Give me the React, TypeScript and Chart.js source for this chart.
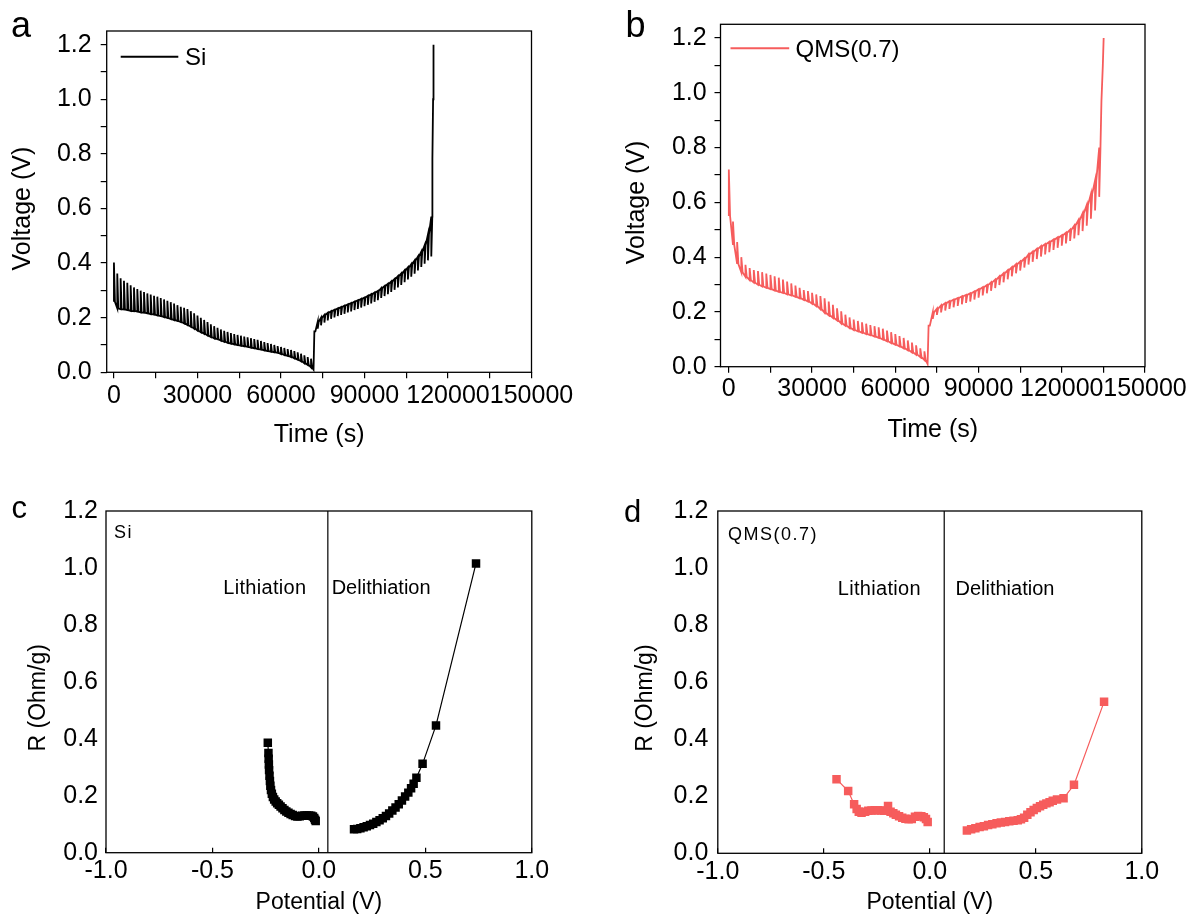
import React, { useEffect, useRef } from 'react';
import { Chart, registerables } from 'chart.js';

Chart.register(...registerables);

const FONT = '"Liberation Sans", Arial, Helvetica, sans-serif';
const BLACK = '#000000';
const RED = '#f65c5c';

// ---------------- tick labels ----------------
const TIME_MAJOR = [0, 30000, 60000, 90000, 120000, 150000];
const TIME_MINOR = [15000, 45000, 75000, 105000, 135000];
const VOLT_MAJOR = [0, 0.2, 0.4, 0.6, 0.8, 1.0, 1.2];
const VOLT_MINOR = [0.1, 0.3, 0.5, 0.7, 0.9, 1.1];
const POT_MAJOR = [-1.0, -0.5, 0.0, 0.5, 1.0];
const RES_MAJOR = [0, 0.2, 0.4, 0.6, 0.8, 1.0, 1.2];

// ---------------- panel a : Si GITT ----------------
const SI_LITH_START = 0;
const SI_LITH_PERIOD = 1200;
const SI_LITH_LOW = [
  0.258, 0.234, 0.231, 0.230, 0.228, 0.225, 0.224, 0.222, 0.219, 0.218,
  0.216, 0.213, 0.211, 0.208, 0.206, 0.202, 0.199, 0.195, 0.191, 0.188,
  0.184, 0.179, 0.173, 0.167, 0.160, 0.153, 0.147, 0.141, 0.135, 0.129,
  0.124, 0.121, 0.116, 0.112, 0.108, 0.105, 0.102, 0.100, 0.097, 0.095,
  0.093, 0.090, 0.088, 0.085, 0.083, 0.080, 0.078, 0.075, 0.073, 0.071,
  0.067, 0.063, 0.060, 0.056, 0.051, 0.046, 0.040, 0.033, 0.027, 0.018,
];
const SI_LITH_OCV = [
  0.402, 0.362, 0.344, 0.335, 0.328, 0.319, 0.311, 0.305, 0.299, 0.294,
  0.289, 0.285, 0.280, 0.277, 0.272, 0.267, 0.262, 0.257, 0.252, 0.246,
  0.240, 0.236, 0.232, 0.224, 0.216, 0.208, 0.200, 0.192, 0.184, 0.176,
  0.169, 0.163, 0.157, 0.152, 0.148, 0.144, 0.140, 0.137, 0.134, 0.131,
  0.128, 0.125, 0.122, 0.119, 0.115, 0.111, 0.107, 0.104, 0.100, 0.096,
  0.093, 0.089, 0.085, 0.082, 0.078, 0.073, 0.068, 0.062, 0.056, 0.050,
];
const SI_LITH_END_T = 71700;
const SI_LITH_END_V = 0.010;
const SI_DEL_START = 72000;
const SI_DEL_PERIOD = 1200;
const SI_DEL_UPPER = [
  0.150, 0.185, 0.200, 0.210, 0.218, 0.224, 0.229, 0.234, 0.239, 0.244,
  0.249, 0.254, 0.259, 0.264, 0.269, 0.274, 0.280, 0.286, 0.292, 0.298,
  0.308, 0.316, 0.324, 0.333, 0.342, 0.352, 0.362, 0.373, 0.384, 0.396,
  0.409, 0.424, 0.442, 0.465, 0.505, 0.570,
];
const SI_DEL_RELAX = [
  0.150, 0.160, 0.172, 0.182, 0.190, 0.196, 0.201, 0.206, 0.210, 0.214,
  0.219, 0.223, 0.228, 0.232, 0.237, 0.242, 0.247, 0.252, 0.258, 0.264,
  0.272, 0.279, 0.286, 0.294, 0.302, 0.311, 0.320, 0.330, 0.340, 0.350,
  0.361, 0.373, 0.386, 0.398, 0.410, 0.424,
];
const SI_TAIL_T = [114300, 114500, 114650, 114800];
const SI_TAIL_V = [0.64, 0.78, 1.0, 1.2];

// ---------------- panel b : QMS(0.7) GITT ----------------
const QMS_LITH_START = 0;
const QMS_LITH_PERIOD = 1500;
const QMS_LITH_LOW = [
  0.550, 0.445, 0.375, 0.345, 0.328, 0.316, 0.307, 0.299, 0.293, 0.288,
  0.283, 0.278, 0.273, 0.269, 0.264, 0.260, 0.255, 0.250, 0.244, 0.238,
  0.230, 0.221, 0.210, 0.197, 0.188, 0.178, 0.169, 0.158, 0.150, 0.141,
  0.134, 0.129, 0.124, 0.119, 0.115, 0.110, 0.105, 0.099, 0.093, 0.086,
  0.080, 0.074, 0.067, 0.060, 0.052, 0.044, 0.035, 0.024,
];
const QMS_LITH_OCV = [
  0.720, 0.530, 0.455, 0.400, 0.372, 0.360, 0.353, 0.349, 0.345, 0.340,
  0.335, 0.330, 0.325, 0.318, 0.311, 0.304, 0.296, 0.288, 0.280, 0.276,
  0.270, 0.264, 0.258, 0.250, 0.238, 0.226, 0.213, 0.202, 0.190, 0.180,
  0.172, 0.167, 0.162, 0.157, 0.152, 0.148, 0.144, 0.139, 0.132, 0.126,
  0.119, 0.112, 0.105, 0.096, 0.088, 0.078, 0.067, 0.056,
];
const QMS_LITH_END_T = 71640;
const QMS_LITH_END_V = 0.010;
const QMS_DEL_START = 72000;
const QMS_DEL_PERIOD = 1500;
const QMS_DEL_UPPER = [
  0.150, 0.198, 0.212, 0.224, 0.232, 0.239, 0.245, 0.251, 0.257, 0.262,
  0.268, 0.275, 0.283, 0.290, 0.298, 0.308, 0.318, 0.330, 0.341, 0.352,
  0.363, 0.374, 0.384, 0.395, 0.410, 0.420, 0.430, 0.440, 0.448, 0.456,
  0.464, 0.472, 0.480, 0.489, 0.500, 0.515, 0.535, 0.560, 0.590, 0.630,
  0.680, 0.800,
];
const QMS_DEL_RELAX = [
  0.150, 0.175, 0.189, 0.198, 0.205, 0.211, 0.217, 0.222, 0.228, 0.233,
  0.238, 0.245, 0.252, 0.260, 0.268, 0.277, 0.287, 0.298, 0.308, 0.319,
  0.330, 0.341, 0.351, 0.362, 0.373, 0.383, 0.393, 0.402, 0.410, 0.418,
  0.426, 0.434, 0.442, 0.450, 0.459, 0.468, 0.480, 0.495, 0.515, 0.540,
  0.570, 0.620,
];
const QMS_TAIL_T = [134300, 134800, 135100];
const QMS_TAIL_V = [0.97, 1.10, 1.20];

// ---------------- panel c : Si resistance ----------------
const SI_R_LITH_V = [
  -0.240, -0.237, -0.236, -0.235, -0.234, -0.232, -0.230, -0.228, -0.225, -0.221,
  -0.216, -0.210, -0.203, -0.196, -0.188, -0.180, -0.171, -0.162, -0.153, -0.143,
  -0.133, -0.123, -0.112, -0.101, -0.090, -0.079, -0.068, -0.057, -0.046, -0.036,
  -0.028, -0.022, -0.018, -0.015,
];
const SI_R_LITH_R = [
  0.386, 0.350, 0.330, 0.310, 0.290, 0.270, 0.252, 0.235, 0.220, 0.207,
  0.196, 0.187, 0.180, 0.174, 0.168, 0.162, 0.156, 0.150, 0.145, 0.140,
  0.136, 0.132, 0.129, 0.127, 0.128, 0.130, 0.131, 0.131, 0.131, 0.130,
  0.127, 0.122, 0.116, 0.111,
];
const SI_R_DELITH_V = [
  0.165, 0.180, 0.195, 0.210, 0.225, 0.240, 0.255, 0.270, 0.285, 0.300,
  0.315, 0.330, 0.345, 0.360, 0.375, 0.390, 0.405, 0.420, 0.433, 0.445,
  0.458, 0.487, 0.550, 0.738,
];
const SI_R_DELITH_R = [
  0.082, 0.083, 0.086, 0.089, 0.093, 0.097, 0.102, 0.108, 0.114, 0.121,
  0.129, 0.138, 0.148, 0.159, 0.170, 0.183, 0.197, 0.211, 0.226, 0.242,
  0.263, 0.312, 0.447, 1.016,
];
const SI_DIVIDER_V = 0.042;

// ---------------- panel d : QMS(0.7) resistance ----------------
const QMS_R_LITH_V = [
  -0.440, -0.385, -0.357, -0.345, -0.335, -0.322, -0.305, -0.290, -0.275, -0.260,
  -0.245, -0.230, -0.215, -0.197, -0.185, -0.172, -0.160, -0.145, -0.130, -0.115,
  -0.100, -0.085, -0.070, -0.055, -0.040, -0.028, -0.018, -0.010,
];
const QMS_R_LITH_R = [
  0.260, 0.218, 0.172, 0.155, 0.146, 0.142, 0.146, 0.149, 0.150, 0.151,
  0.151, 0.150, 0.149, 0.166, 0.146, 0.140, 0.135, 0.130, 0.125, 0.121,
  0.119, 0.120, 0.128, 0.131, 0.130, 0.126, 0.120, 0.110,
];
const QMS_R_DELITH_V = [
  0.175, 0.195, 0.215, 0.235, 0.255, 0.275, 0.295, 0.315, 0.335, 0.355,
  0.375, 0.395, 0.415, 0.430, 0.445, 0.460, 0.475, 0.490, 0.505, 0.520,
  0.535, 0.550, 0.565, 0.580, 0.600, 0.631, 0.680, 0.822,
];
const QMS_R_DELITH_R = [
  0.080, 0.084, 0.088, 0.092, 0.095, 0.099, 0.102, 0.105, 0.108, 0.110,
  0.112, 0.114, 0.116, 0.119, 0.125, 0.135, 0.144, 0.152, 0.159, 0.165,
  0.170, 0.175, 0.179, 0.184, 0.189, 0.193, 0.240, 0.531,
];
const QMS_DIVIDER_V = 0.068;

// ---------------- helpers ----------------
type Pt = { x: number; y: number };

// relaxation spikes: rise at pulse start, fall back after a short rest fraction
const SPIKE_FRACTION = 0.3;

function buildGitt(
  lithStart: number, lithPeriod: number, lithLow: number[], lithOcv: number[],
  lithEndT: number, lithEndV: number,
  delStart: number, delPeriod: number, delUpper: number[], delRelax: number[],
  tailT: number[], tailV: number[],
): Pt[] {
  const pts: Pt[] = [];
  lithLow.forEach((low, i) => {
    const t = lithStart + i * lithPeriod;
    pts.push({ x: t, y: low }, { x: t, y: lithOcv[i] }, { x: t + lithPeriod * SPIKE_FRACTION, y: low });
  });
  pts.push({ x: lithEndT, y: lithEndV });
  delUpper.forEach((up, j) => {
    const t = delStart + j * delPeriod;
    pts.push({ x: t, y: up }, { x: t, y: delRelax[j] }, { x: t + delPeriod * SPIKE_FRACTION, y: up });
  });
  tailT.forEach((t, k) => pts.push({ x: t, y: tailV[k] }));
  return pts;
}

function zip(xs: number[], ys: number[]): Pt[] {
  return xs.map((x, i) => ({ x, y: ys[i] }));
}

const isIn = (list: number[], v: number) => list.some((m) => Math.abs(m - v) < 1e-6);

function drawFrame(chart: any, ctx: CanvasRenderingContext2D) {
  const a = chart.chartArea;
  ctx.strokeStyle = BLACK;
  ctx.lineWidth = 1.3;
  ctx.strokeRect(a.left, a.top, a.right - a.left, a.bottom - a.top);
}

function drawText(ctx: CanvasRenderingContext2D, text: string, x: number, y: number, size: number, spacing = 0) {
  ctx.save();
  ctx.font = `${size}px ${FONT}`;
  ctx.fillStyle = BLACK;
  ctx.textAlign = 'left';
  ctx.textBaseline = 'alphabetic';
  (ctx as any).letterSpacing = `${spacing}px`;
  ctx.fillText(text, x, y);
  ctx.restore();
}

function decor(draw: (chart: any, ctx: CanvasRenderingContext2D) => void) {
  return {
    id: 'decor',
    afterDraw(chart: any) {
      const ctx = chart.ctx;
      ctx.save();
      draw(chart, ctx);
      ctx.restore();
    },
  };
}

// ---------------- GITT panel config ----------------
function gittConfig(o: any) {
  return {
    type: 'line',
    data: {
      datasets: [
        {
          data: o.points,
          borderColor: o.color,
          borderWidth: 1.8,
          pointRadius: 0,
          tension: 0,
          fill: false,
        },
      ],
    },
    options: {
      responsive: false,
      animation: false,
      events: [],
      layout: { padding: { left: 0, top: o.padTop, right: o.padRight, bottom: 0 } },
      plugins: { legend: { display: false }, tooltip: { enabled: false } },
      scales: {
        x: {
          type: 'linear',
          min: o.xMin,
          max: 150000,
          afterBuildTicks: (s: any) => {
            s.ticks = [...TIME_MAJOR, ...TIME_MINOR].sort((p, q) => p - q).map((v) => ({ value: v }));
          },
          afterFit: (s: any) => { s.height = o.xAxisHeight; },
          ticks: {
            autoSkip: false, maxRotation: 0, minRotation: 0, padding: o.xTickPad, color: BLACK,
            font: { family: FONT, size: 25 },
            callback: (v: number) => (isIn(TIME_MAJOR, v) ? String(v) : ''),
          },
          grid: { display: true, drawOnChartArea: false, drawTicks: true, tickLength: 6, color: BLACK, lineWidth: 1.2 },
          border: { display: false },
          title: {
            display: true, text: 'Time (s)', color: BLACK, font: { family: FONT, size: 25 },
            padding: { top: 0, bottom: o.xTitlePad },
          },
        },
        y: {
          type: 'linear',
          min: 0,
          max: 1.25,
          afterBuildTicks: (s: any) => {
            s.ticks = [...VOLT_MAJOR, ...VOLT_MINOR].sort((p, q) => p - q).map((v) => ({ value: v }));
          },
          afterFit: (s: any) => { s.width = o.yAxisWidth; },
          ticks: {
            autoSkip: false, padding: o.yTickPad, color: BLACK, font: { family: FONT, size: 25 },
            callback: (v: number) => (isIn(VOLT_MAJOR, v) ? v.toFixed(1) : ''),
          },
          grid: { display: true, drawOnChartArea: false, drawTicks: true, tickLength: 6, color: BLACK, lineWidth: 1.2 },
          border: { display: false },
          title: {
            display: true, text: 'Voltage (V)  ', color: BLACK, font: { family: FONT, size: 25 },
            padding: { top: o.yTitlePad, bottom: 0 },
          },
        },
      },
    },
    plugins: [
      decor((chart, ctx) => {
        drawFrame(chart, ctx);
        drawText(ctx, o.letter, o.letterX, o.letterY, 36);
        ctx.strokeStyle = o.color;
        ctx.lineWidth = 2;
        ctx.beginPath();
        ctx.moveTo(o.legX1, o.legY);
        ctx.lineTo(o.legX2, o.legY);
        ctx.stroke();
        drawText(ctx, o.legText, o.legTextX, o.legTextY, 24);
      }),
    ],
  };
}

// ---------------- resistance panel config ----------------
function resConfig(o: any) {
  const pointSet = (pts: Pt[]) => ({
    data: pts,
    borderColor: o.color,
    backgroundColor: o.color,
    borderWidth: 1.2,
    pointStyle: 'rect',
    pointRadius: 6,
    pointBorderWidth: 0,
    pointBackgroundColor: o.color,
    tension: 0,
    fill: false,
  });
  return {
    type: 'line',
    data: {
      datasets: [
        {
          data: [{ x: o.divider, y: 0 }, { x: o.divider, y: 1.2 }],
          borderColor: BLACK,
          borderWidth: 1.2,
          pointRadius: 0,
          fill: false,
        },
        pointSet(o.lith),
        pointSet(o.delith),
      ],
    },
    options: {
      responsive: false,
      animation: false,
      events: [],
      layout: { padding: { left: 0, top: o.padTop, right: o.padRight, bottom: 0 } },
      plugins: { legend: { display: false }, tooltip: { enabled: false } },
      scales: {
        x: {
          type: 'linear',
          min: -1,
          max: 1,
          afterBuildTicks: (s: any) => { s.ticks = POT_MAJOR.map((v) => ({ value: v })); },
          afterFit: (s: any) => { s.height = o.xAxisHeight; },
          ticks: {
            autoSkip: false, maxRotation: 0, minRotation: 0, padding: o.xTickPad, color: BLACK,
            font: { family: FONT, size: 25 },
            callback: (v: number) => v.toFixed(1),
          },
          grid: { display: true, drawOnChartArea: false, drawTicks: true, tickLength: -5, color: BLACK, lineWidth: 1.2 },
          border: { display: false },
          title: {
            display: true, text: 'Potential (V)', color: BLACK, font: { family: FONT, size: 23 },
            padding: { top: 0, bottom: o.xTitlePad },
          },
        },
        y: {
          type: 'linear',
          min: 0,
          max: 1.2,
          afterBuildTicks: (s: any) => { s.ticks = RES_MAJOR.map((v) => ({ value: v })); },
          afterFit: (s: any) => { s.width = o.yAxisWidth; },
          ticks: {
            autoSkip: false, padding: o.yTickPad, color: BLACK, font: { family: FONT, size: 25 },
            callback: (v: number) => v.toFixed(1),
          },
          grid: { display: false, drawOnChartArea: false, drawTicks: false },
          border: { display: false },
          title: {
            display: true, text: 'R (Ohm/g)     ', color: BLACK, font: { family: FONT, size: 23 },
            padding: { top: o.yTitlePad, bottom: 0 },
          },
        },
      },
    },
    plugins: [
      decor((chart, ctx) => {
        drawFrame(chart, ctx);
        drawText(ctx, o.letter, o.letterX, o.letterY, 31);
        const xs = chart.scales.x;
        const ys = chart.scales.y;
        drawText(ctx, o.tag, xs.getPixelForValue(o.tagPos[0]), ys.getPixelForValue(o.tagPos[1]), 18, 1.5);
        drawText(ctx, 'Lithiation', xs.getPixelForValue(o.lithPos[0]), ys.getPixelForValue(o.lithPos[1]), 20, 0.3);
        drawText(ctx, 'Delithiation', xs.getPixelForValue(o.delPos[0]), ys.getPixelForValue(o.delPos[1]), 20);
      }),
    ],
  };
}

// ---------------- component ----------------
function ChartCanvas(props: { left: number; top: number; width: number; height: number; make: () => any }) {
  const ref = useRef<HTMLCanvasElement | null>(null);
  useEffect(() => {
    const chart = new Chart(ref.current as HTMLCanvasElement, props.make());
    return () => chart.destroy();
  }, []);
  return (
    <canvas
      ref={ref}
      width={props.width}
      height={props.height}
      style={{ position: 'absolute', left: props.left, top: props.top, width: props.width, height: props.height }}
    />
  );
}

export default function App() {
  const siGitt = buildGitt(
    SI_LITH_START, SI_LITH_PERIOD, SI_LITH_LOW, SI_LITH_OCV, SI_LITH_END_T, SI_LITH_END_V,
    SI_DEL_START, SI_DEL_PERIOD, SI_DEL_UPPER, SI_DEL_RELAX, SI_TAIL_T, SI_TAIL_V,
  );
  const qmsGitt = buildGitt(
    QMS_LITH_START, QMS_LITH_PERIOD, QMS_LITH_LOW, QMS_LITH_OCV, QMS_LITH_END_T, QMS_LITH_END_V,
    QMS_DEL_START, QMS_DEL_PERIOD, QMS_DEL_UPPER, QMS_DEL_RELAX, QMS_TAIL_T, QMS_TAIL_V,
  );

  return (
    <div style={{ position: 'absolute', left: 0, top: 0, width: 1190, height: 918, background: '#ffffff', overflow: 'hidden' }}>
      <ChartCanvas
        left={0} top={0} width={600} height={460}
        make={() => gittConfig({
          points: siGitt, color: BLACK, xMin: -2600,
          padTop: 31, padRight: 68.5, yAxisWidth: 106.7, xAxisHeight: 87.7,
          yTickPad: 9, xTickPad: 2.6, yTitlePad: 8.3, xTitlePad: 9.7,
          letter: 'a', letterX: 11, letterY: 37.3,
          legX1: 120.7, legX2: 178.3, legY: 56.7, legText: 'Si', legTextX: 185, legTextY: 65,
        })}
      />
      <ChartCanvas
        left={600} top={0} width={590} height={460}
        make={() => gittConfig({
          points: qmsGitt, color: RED, xMin: -3000,
          padTop: 24.3, padRight: 45, yAxisWidth: 120.5, xAxisHeight: 93.3,
          yTickPad: 7.8, xTickPad: 1.5, yTitlePad: 21.7, xTitlePad: 15,
          letter: 'b', letterX: 25.5, letterY: 36.7,
          legX1: 130.5, legX2: 189.2, legY: 48.3, legText: 'QMS(0.7)', legTextX: 195.6, legTextY: 56.7,
        })}
      />
      <ChartCanvas
        left={0} top={460} width={600} height={458}
        make={() => resConfig({
          color: BLACK, divider: SI_DIVIDER_V,
          lith: zip(SI_R_LITH_V, SI_R_LITH_R), delith: zip(SI_R_DELITH_V, SI_R_DELITH_R),
          padTop: 51, padRight: 68.2, yAxisWidth: 106, xAxisHeight: 65.3,
          yTickPad: 8, xTickPad: 8.2, yTitlePad: 24.6, xTitlePad: 1.7,
          letter: 'c', letterX: 11.5, letterY: 58.3,
          tag: 'Si', tagPos: [-0.962, 1.105],
          lithPos: [-0.449, 0.907], delPos: [0.060, 0.907],
        })}
      />
      <ChartCanvas
        left={600} top={460} width={590} height={458}
        make={() => resConfig({
          color: RED, divider: QMS_DIVIDER_V,
          lith: zip(QMS_R_LITH_V, QMS_R_LITH_R), delith: zip(QMS_R_DELITH_V, QMS_R_DELITH_R),
          padTop: 51, padRight: 48.2, yAxisWidth: 117.8, xAxisHeight: 64.7,
          yTickPad: 9.5, xTickPad: 8.9, yTitlePad: 32.2, xTitlePad: 1.7,
          letter: 'd', letterX: 24, letterY: 61.7,
          tag: 'QMS(0.7)', tagPos: [-0.952, 1.098],
          lithPos: [-0.434, 0.906], delPos: [0.121, 0.906],
        })}
      />
    </div>
  );
}
